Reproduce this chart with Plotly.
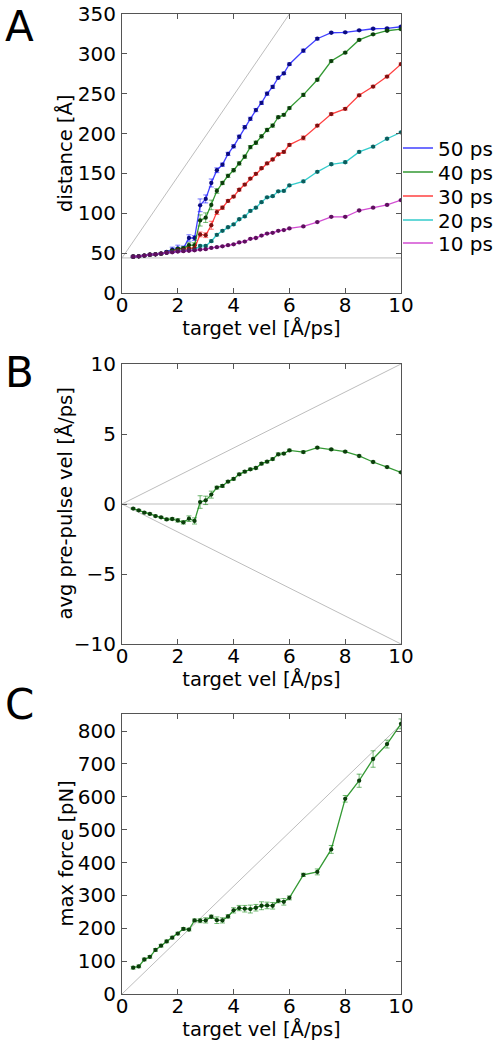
import plotly.graph_objects as go

# ---------------- data ----------------
vel = [0.4, 0.6, 0.8, 1.0, 1.2, 1.4, 1.6, 1.8, 2.0, 2.2, 2.4, 2.6, 2.8, 3.0, 3.2, 3.4, 3.6, 3.8,
       4.0, 4.2, 4.4, 4.6, 4.8, 5.0, 5.2, 5.4, 5.6, 5.8, 6.0, 6.5, 7.0, 7.5, 8.0, 8.5, 9.0, 9.5, 10.0]

dist_50 = [45.5, 46, 47, 48, 48.5, 49.5, 51.5, 54.5, 56, 56, 69, 69, 110, 118, 138, 154, 161, 174.5,
           184, 196, 208, 218.5, 229.5, 238.5, 250, 258.5, 270, 275.5, 287, 304, 319, 326.5, 327, 329.5, 331.5, 332, 334]
dist_40 = [45.5, 46, 47, 48, 48.5, 49.5, 51, 53, 55, 56, 60, 60, 91, 94.5, 110.5, 128, 138, 147,
           154, 162.5, 171, 183, 188.5, 196.5, 204.5, 210, 220.5, 223.5, 232, 248.5, 267.5, 291, 301.5, 317.5, 324.5, 329, 331]
dist_30 = [45.5, 46, 47, 48, 48.5, 49.5, 50.5, 52, 53.5, 54, 55.5, 56, 73.5, 72.5, 85, 101.5, 107, 115.5,
           121, 129.5, 136, 143.5, 149.5, 156.5, 162.5, 167.5, 174, 177, 185.8, 194.5, 210, 224.5, 231, 248, 259, 271.5, 287]
dist_20 = [45.5, 46, 47, 48, 48.5, 49.5, 50.5, 51.5, 52.5, 53, 53.5, 54, 59, 59, 65, 73, 78, 82.5,
           86, 92.5, 96, 103, 107, 114, 120, 121.5, 127.5, 128, 135, 140, 152, 161.5, 164, 177, 183.5, 193.5, 201.5]
dist_10 = [45.5, 46, 47, 48, 48.5, 49.5, 50.5, 51, 52, 52.5, 53, 53.5, 54.5, 55, 56.5, 57.5, 58.5, 60,
           61, 63.5, 64.5, 68, 69, 72, 74.5, 75.5, 78, 79, 81, 83.5, 89, 95.5, 95.5, 103.5, 107, 110.5, 116.5]

err_50 = [0.8, 0.8, 0.8, 0.8, 0.8, 1, 1.5, 3, 4, 3, 4, 3, 8, 5, 5, 3, 2, 2,
          2, 2, 2, 2, 2, 2, 2, 2, 1.5, 1.5, 1.5, 2, 1.5, 1, 1, 1, 1, 1, 1]
err_40 = [0.8, 0.8, 0.8, 0.8, 0.8, 1, 1, 1.5, 2, 2, 3, 3, 7, 6, 6, 3, 2, 2,
          2, 2, 2, 2, 2, 2, 2, 2, 1.5, 1.5, 1.5, 2, 1.5, 1.5, 1, 1, 1, 1, 1]
err_30 = [0.8, 0.8, 0.8, 0.8, 0.8, 0.8, 1, 1, 1, 1, 1.5, 1.5, 3, 3, 5, 3, 2, 1.5,
          1.5, 1.5, 1.5, 1.5, 1.5, 1.5, 1.5, 1.5, 1.5, 1.5, 1.5, 2.5, 1.5, 1.5, 1.5, 1.5, 1.5, 1.5, 1.5]
err_20 = [0.8] * 12 + [1.5, 1.5, 1.5, 1.5, 1.2, 1.2, 1.2, 1.2, 1.2, 1.2, 1.2, 1.2, 1.2, 1.2, 1.2, 1.2, 1.2,
                       1.5, 1.2, 1.5, 1.5, 1.2, 1.2, 1.2, 1.2]
err_10 = [0.8] * 37

series_names = ["50 ps", "40 ps", "30 ps", "20 ps", "10 ps"]

prepulse_vel = [-0.33, -0.45, -0.62, -0.71, -0.86, -0.95, -1.1, -1.07, -1.17, -1.31, -1.05, -1.21,
                0.14, 0.26, 0.67, 1.17, 1.29, 1.6, 1.79, 2.12, 2.31, 2.48, 2.57, 2.88, 3.02, 3.21,
                3.55, 3.6, 3.83, 3.71, 4.02, 3.9, 3.74, 3.43, 3.0, 2.64, 2.26]
prepulse_err = [0.06, 0.06, 0.06, 0.06, 0.06, 0.06, 0.08, 0.08, 0.12, 0.12, 0.2, 0.22,
                0.45, 0.3, 0.25, 0.1, 0.1, 0.08, 0.08, 0.08, 0.08, 0.08, 0.08, 0.08, 0.08, 0.08,
                0.1, 0.08, 0.08, 0.08, 0.06, 0.06, 0.06, 0.06, 0.06, 0.06, 0.06]

max_force = [80, 84, 105, 113, 134, 147, 160, 171.5, 184, 198, 196, 224, 223, 224, 235, 224.5, 224, 236,
             254.5, 261.5, 259.5, 258.5, 262.5, 268.5, 269.5, 268.5, 283.5, 280.5, 292.5,
             362.5, 371.5, 440, 594, 649, 715, 760.5, 822]
force_err = [4, 4, 4, 4, 4, 4, 4, 4, 4, 4, 4, 4, 6, 8, 5, 10, 8, 5,
             8, 8, 10, 12, 10, 12, 10, 10, 6, 10, 6, 5, 9, 12, 10, 20, 25, 12, 15]

# reference guide lines
guide_v = [0, 10]
guide_dist_flat = [44, 44]
guide_dist_diag_x = [0, 6.0]
guide_dist_diag_y = [44, 350]
guide_b_up = [0, 10]
guide_b_down = [0, -10]
guide_b_zero = [0, 0]
guide_c_x = [0, 10]
guide_c_y = [0, 820]

# ---------------- style ----------------
line_cols = ["rgba(0,0,255,0.75)", "rgba(0,128,0,0.8)", "rgba(255,0,0,0.75)",
             "rgba(0,191,191,0.8)", "rgba(191,0,191,0.7)"]
mark_cols = ["#0a0a80", "#0b3d0b", "#801010", "#0b5c5c", "#5c105c"]
err_cols = ["rgba(0,0,255,0.55)", "rgba(0,128,0,0.55)", "rgba(255,0,0,0.55)",
            "rgba(0,191,191,0.6)", "rgba(191,0,191,0.55)"]
GUIDE = "#bdbdbd"
FONT = "DejaVu Sans"

W, H = 498, 1046
x0, x1 = 122 / W, 401 / W
doms = [(1 - 293 / H, 1 - 14 / H), (1 - 644 / H, 1 - 364 / H), (1 - 994 / H, 1 - 714 / H)]
legend_y = [148, 172, 196, 220, 243]

fig = go.Figure()

def guide(x, y, xa, ya):
    fig.add_trace(go.Scatter(x=x, y=y, mode="lines", line=dict(color=GUIDE, width=1),
                             xaxis=xa, yaxis=ya, showlegend=False, hoverinfo="skip"))

# Panel A
guide(guide_v, guide_dist_flat, "x", "y")
guide(guide_dist_diag_x, guide_dist_diag_y, "x", "y")
dists = [dist_50, dist_40, dist_30, dist_20, dist_10]
errs = [err_50, err_40, err_30, err_20, err_10]
for i, name in enumerate(series_names):
    fig.add_trace(go.Scatter(
        x=vel, y=dists[i], mode="lines+markers", name=name, showlegend=False,
        line=dict(color=line_cols[i], width=1.3),
        marker=dict(color=mark_cols[i], size=4.3, line=dict(width=0)),
        error_y=dict(type="data", array=errs[i], color=err_cols[i], thickness=1, width=2.5),
        xaxis="x", yaxis="y"))
for i, name in enumerate(series_names):
    lg = "legend" if i == 0 else "legend%d" % (i + 1)
    fig.add_trace(go.Scatter(x=[None], y=[None], mode="lines", name=name, legend=lg,
                             line=dict(color=line_cols[i], width=1.3), xaxis="x", yaxis="y"))

# Panel B
guide(guide_v, guide_b_up, "x2", "y2")
guide(guide_v, guide_b_down, "x2", "y2")
guide(guide_v, guide_b_zero, "x2", "y2")
fig.add_trace(go.Scatter(
    x=vel, y=prepulse_vel, mode="lines+markers", showlegend=False,
    line=dict(color=line_cols[1], width=1.3),
    marker=dict(color=mark_cols[1], size=4.3, line=dict(width=0)),
    error_y=dict(type="data", array=prepulse_err, color=err_cols[1], thickness=1, width=2.5),
    xaxis="x2", yaxis="y2"))

# Panel C
guide(guide_c_x, guide_c_y, "x3", "y3")
fig.add_trace(go.Scatter(
    x=vel, y=max_force, mode="lines+markers", showlegend=False,
    line=dict(color=line_cols[1], width=1.3),
    marker=dict(color=mark_cols[1], size=4.3, line=dict(width=0)),
    error_y=dict(type="data", array=force_err, color=err_cols[1], thickness=1, width=2.5),
    xaxis="x3", yaxis="y3"))

axis_common = dict(showline=True, linecolor="#555555", linewidth=1.2, mirror="ticks",
                   ticks="inside", ticklen=5, tickcolor="#555555", tickwidth=1,
                   showgrid=False, zeroline=False, automargin=False,
                   tickfont=dict(family=FONT, size=20, color="black"))

xticks = [0, 2, 4, 6, 8, 10]
title_font = dict(family=FONT, size=19.5, color="black")

layout = dict(
    width=W, height=H, margin=dict(l=0, r=0, t=0, b=0, autoexpand=False),
    paper_bgcolor="white", plot_bgcolor="white",
    font=dict(family=FONT, size=20, color="black"),
    showlegend=True,
)
for i in range(5):
    key = "legend" if i == 0 else "legend%d" % (i + 1)
    layout[key] = dict(x=398 / W, y=1 - legend_y[i] / H, xanchor="left", yanchor="middle",
                       font=dict(family=FONT, size=20, color="black"),
                       bgcolor="rgba(0,0,0,0)", borderwidth=0, itemwidth=30)

ytitles = ["distance [Å]", "avg pre-pulse vel [Å/ps]", "max force [pN]"]
for k, (dom, yrange, ytv) in enumerate([
        (doms[0], [0, 350], [0, 50, 100, 150, 200, 250, 300, 350]),
        (doms[1], [-10, 10], [-10, -5, 0, 5, 10]),
        (doms[2], [0, 852], [0, 100, 200, 300, 400, 500, 600, 700, 800])]):
    sfx = "" if k == 0 else str(k + 1)
    layout["xaxis" + sfx] = dict(axis_common, domain=[x0, x1], range=[0, 10], tickvals=xticks,
                                 anchor="y" + sfx, ticklabelstandoff=-6,
                                 title=dict(text="target vel [Å/ps]", font=title_font, standoff=1))
    layout["yaxis" + sfx] = dict(axis_common, domain=list(dom), range=yrange, tickvals=ytv,
                                 anchor="x" + sfx, ticklabelstandoff=1)
fig.update_layout(**layout)

# y-axis titles (rotated), placed just left of tick labels
for k, txt in enumerate(ytitles):
    fig.add_annotation(text=txt, x=65.5 / W, y=(doms[k][0] + doms[k][1]) / 2,
                       xref="paper", yref="paper", showarrow=False, textangle=-90,
                       xanchor="center", yanchor="middle", font=title_font)

for txt, yc in [("A", 27), ("B", 373), ("C", 704)]:
    fig.add_annotation(text=txt, x=3 / W, y=1 - yc / H, xref="paper", yref="paper",
                       showarrow=False, xanchor="left", yanchor="middle",
                       font=dict(family=FONT, size=42, color="black"))

fig.write_html("out.html", config={"displayModeBar": False},
               post_script="document.body.style.margin='0px';")
